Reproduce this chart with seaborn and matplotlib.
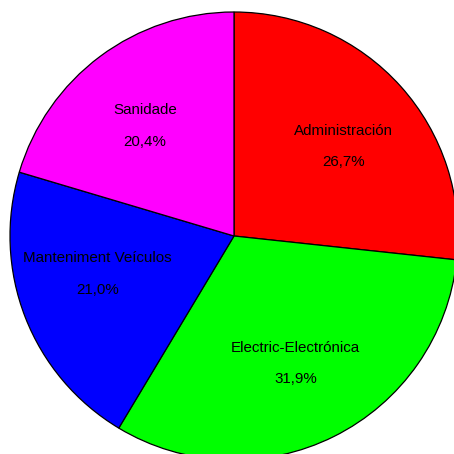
import numpy as np
import matplotlib
matplotlib.use("Agg")
import matplotlib.pyplot as plt
import seaborn as sns

# Shares by area, clockwise from the top
categories = ["Administración", "Electric-Electrónica", "Manteniment Veículos", "Sanidade"]
shares = [26.7, 31.9, 21.0, 20.4]
colors = ["#FF0000", "#00FF00", "#0000FF", "#FF00FF"]

# Small angular nudges (degrees) for the in-slice labels
label_nudge = [-2.7, -0.7, -5.5, 2.2]

sns.set_theme(style="white")
plt.rcParams["font.family"] = ["Liberation Sans", "DejaVu Sans"]

fig = plt.figure(figsize=(4.54, 4.54), dpi=100)
ax = fig.add_axes([0, 0, 1, 1])

wedges, _ = ax.pie(
    shares,
    colors=colors,
    startangle=90,
    counterclock=False,
    radius=1.0,
    wedgeprops=dict(edgecolor="black", linewidth=0.9),
)

# Name and percentage inside each slice
for w, name, val, nudge in zip(wedges, categories, shares, label_nudge):
    mid = np.deg2rad((w.theta1 + w.theta2) / 2 + nudge)
    r = 0.632
    x, y = r * np.cos(mid), r * np.sin(mid)
    ax.text(x, y + 0.071, name, ha="center", va="center", fontsize=10.9, color="black")
    ax.text(x, y - 0.071, f"{val:.1f}%".replace(".", ","), ha="center", va="center",
            fontsize=10.9, color="black")

ax.set_xlim(-234 / 224, 220 / 224)
ax.set_ylim(-218 / 224, 236 / 224)
ax.set_aspect("equal")
ax.axis("off")

fig.savefig("out.png", dpi=100, facecolor="white")
